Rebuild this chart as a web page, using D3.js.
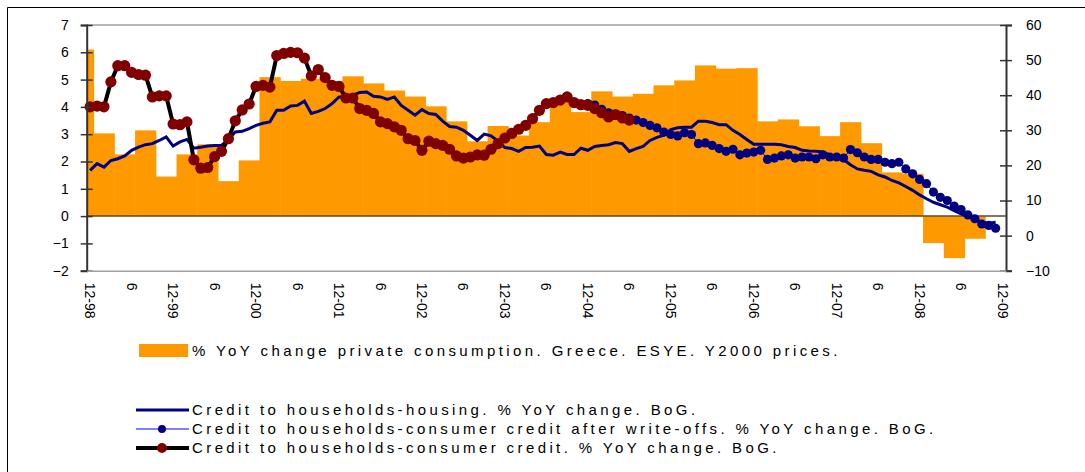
<!DOCTYPE html>
<html>
<head>
<meta charset="utf-8">
<script src="https://cdn.jsdelivr.net/npm/d3@7"></script>
<style>
  body { margin: 0; background: #fff; }
  svg text { font-family: "Liberation Sans", Arial, sans-serif; fill: #000; }
</style>
</head>
<body>
<div id="chart"></div>
<script>
// quarterly private consumption, % yoy (left axis), Q4-98 .. Q3-09
const consQuarters = ['Q4-98',
  'Q1-99','Q2-99','Q3-99','Q4-99','Q1-00','Q2-00','Q3-00','Q4-00',
  'Q1-01','Q2-01','Q3-01','Q4-01','Q1-02','Q2-02','Q3-02','Q4-02',
  'Q1-03','Q2-03','Q3-03','Q4-03','Q1-04','Q2-04','Q3-04','Q4-04',
  'Q1-05','Q2-05','Q3-05','Q4-05','Q1-06','Q2-06','Q3-06','Q4-06',
  'Q1-07','Q2-07','Q3-07','Q4-07','Q1-08','Q2-08','Q3-08','Q4-08',
  'Q1-09','Q2-09','Q3-09'];
const consValues = [6.1,
  3.03, 2.26, 3.14, 1.45, 2.26, 2.63, 1.28, 2.04,
  5.09, 4.95, 5.03, 4.95, 5.12, 4.86, 4.6, 4.38,
  4.02, 3.47, 2.74, 3.3, 2.95, 3.44, 4.2, 3.81,
  4.57, 4.38, 4.48, 4.79, 4.97, 5.52, 5.4, 5.42,
  3.47, 3.54, 3.29, 2.93, 3.44, 2.67, 1.6, 1.55,
  -0.99, -1.54, -0.83];

// monthly credit series (right axis), first value = Dec-98
const housing = [18.6, 20.5, 19.5, 21.4, 21.9, 22.7, 24.3, 25.2, 25.9, 26.2, 27.1, 28.1,
  25.5, 26.7, 27.4, 24.9, 25.2, 25.5, 25.7, 25.7, 27.4, 29.5, 29.7, 30.5,
  31.4, 32.0, 32.4, 35.7, 35.7, 36.9, 37.1, 38.3, 34.8, 35.4, 36.2, 37.6,
  39.5, 39.5, 40.0, 40.8, 40.9, 39.7, 39.5, 38.8, 39.5, 37.1, 35.7, 34.3,
  35.9, 34.8, 34.5, 32.6, 31.1, 30.9, 30.0, 28.6, 27.1, 28.9, 28.4, 26.9,
  25.1, 24.8, 24.0, 25.1, 25.2, 25.5, 23.1, 22.9, 23.8, 23.1, 23.1, 24.9,
  24.3, 25.4, 25.7, 25.9, 26.5, 26.2, 24.0, 24.8, 25.4, 27.1, 28.0, 28.6,
  30.2, 30.7, 30.9, 30.9, 32.6, 32.6, 32.2, 31.6, 31.6, 30.0, 28.8, 27.4,
  26.0, 26.0, 26.0, 26.0, 25.9, 25.4, 25.1, 24.3, 24.1, 24.0, 23.8, 23.0,
  22.7, 21.7, 20.2, 19.0, 18.6, 18.3, 17.3, 16.7, 15.7, 15.0, 14.0, 12.9,
  11.6, 10.5, 9.5, 8.8, 8.1, 7.1, 6.2, 5.4, 4.6, 3.8, 3.5, 3.8];

// consumer credit after write-offs, first value = Dec-04
const writeOffStart = 72;
const consumerAfterWO = [37.6, 37.2, 36.0, 35.0, 34.3, 34.2, 33.5,
  32.9, 32.2, 31.4, 30.7, 29.5, 28.8, 28.4, 29.3, 28.8, 26.2, 26.4, 25.7,
  24.8, 24.0, 24.6, 23.0, 23.5, 23.8, 24.3, 21.7, 22.1, 22.7, 23.0, 22.1,
  22.4, 22.4, 21.9, 23.0, 22.4, 22.4, 22.1, 24.5, 23.6, 22.4, 21.7, 21.7,
  20.9, 20.5, 20.9, 19.0, 17.6, 16.0, 14.8, 12.4, 10.9, 10.0, 8.4, 7.4,
  5.9, 4.8, 3.3, 2.9, 2.1];

// consumer credit, first value = Dec-98
const consumer = [36.7, 36.9, 36.7, 43.8, 48.4, 48.4, 46.5, 45.9, 45.7, 39.5, 39.8, 39.8,
  31.8, 31.6, 32.4, 21.6, 19.2, 19.4, 22.5, 24.0, 27.6, 32.7, 35.8, 37.5,
  42.5, 42.8, 42.3, 51.3, 51.9, 52.2, 52.1, 50.6, 45.5, 47.3, 45.0, 42.8,
  42.5, 39.2, 39.2, 36.2, 35.7, 34.8, 32.4, 31.9, 31.0, 30.0, 27.6, 27.1,
  24.3, 26.9, 26.2, 25.7, 24.6, 22.7, 22.1, 22.4, 23.0, 22.9, 24.6, 26.2,
  27.8, 29.1, 30.3, 31.4, 33.3, 35.7, 37.6, 37.9, 38.6, 39.5, 37.9, 37.3,
  37.1, 36.2, 35.0, 33.8, 34.5, 33.5, 32.9];

const leftTicks = [-2, -1, 0, 1, 2, 3, 4, 5, 6, 7];
const rightTicks = [-10, 0, 10, 20, 30, 40, 50, 60];

const legendItems = [
  '% YoY change private consumption. Greece. ESYE. Y2000 prices.',
  'Credit to households-housing. % YoY change. BoG.',
  'Credit to households-consumer credit after write-offs. % YoY change. BoG.',
  'Credit to households-consumer credit. % YoY change. BoG.'
];

const W = 1085, H = 472;
const plot = { left: 86.7, right: 1006, top: 25, bottom: 270.7 };

const months = d3.timeMonth.range(new Date(1998, 11, 1), new Date(2010, 0, 1));
const monthLabel = d => d.getMonth() === 11 ? '12-' + String(d.getFullYear() % 100).padStart(2, '0')
                      : d.getMonth() === 5 ? '6' : null;

const svg = d3.select('#chart').append('svg')
  .attr('width', W).attr('height', H);

// outer frame
svg.append('path')
  .attr('d', `M7.5,${H} V7.5 H${W}`)
  .attr('fill', 'none').attr('stroke', '#000').attr('stroke-width', 1);

const x = d3.scaleBand().domain(d3.range(months.length))
  .range([plot.left, plot.right]).paddingInner(0).paddingOuter(0);
const yL = d3.scaleLinear().domain([-2, 7]).range([plot.bottom, plot.top]);
const yR = d3.scaleLinear().domain([-10, 60]).range([plot.bottom, plot.top]);

// plot frame (top grey)
svg.append('line').attr('x1', plot.left).attr('x2', plot.right)
  .attr('y1', plot.top).attr('y2', plot.top).attr('stroke', '#a0a0a0').attr('stroke-width', 1.5);

// bars: each quarter spread over its months
const quarterStart = q => {
  const qn = +q[1], yy = +q.slice(3);
  const year = yy > 50 ? 1900 + yy : 2000 + yy;
  const m = new Date(year, (qn - 1) * 3, 1);
  return Math.max(0, d3.timeMonth.count(months[0], m));
};
const bars = consQuarters.map((q, i) => {
  const s = quarterStart(q);
  const e = i === 0 ? 1 : s + 3;
  return { s, e, v: consValues[i] };
});
svg.append('g').selectAll('rect').data(bars).enter().append('rect')
  .attr('x', d => x(d.s))
  .attr('width', d => (d.e - d.s) * x.bandwidth() + 0.5)
  .attr('y', d => yL(Math.max(0, d.v)))
  .attr('height', d => Math.abs(yL(d.v) - yL(0)))
  .attr('fill', '#ff9900');

// zero line
svg.append('line').attr('x1', plot.left).attr('x2', plot.right)
  .attr('y1', yL(0)).attr('y2', yL(0)).attr('stroke', '#5a4a2a').attr('stroke-width', 1.5);

const cx = i => x(i) + x.bandwidth() / 2;

// housing
svg.append('path').datum(housing)
  .attr('d', d3.line().x((d, i) => cx(i)).y(d => yR(d)))
  .attr('fill', 'none').attr('stroke', '#000080').attr('stroke-width', 3);

// consumer after write-offs
const gWO = svg.append('g');
gWO.append('path').datum(consumerAfterWO)
  .attr('d', d3.line().x((d, i) => cx(i + writeOffStart)).y(d => yR(d)))
  .attr('fill', 'none').attr('stroke', '#0000ff').attr('stroke-width', 1);
gWO.selectAll('circle').data(consumerAfterWO).enter().append('circle')
  .attr('cx', (d, i) => cx(i + writeOffStart)).attr('cy', d => yR(d))
  .attr('r', 4.6).attr('fill', '#000080');

// consumer credit
const gC = svg.append('g');
gC.append('path').datum(consumer)
  .attr('d', d3.line().x((d, i) => cx(i)).y(d => yR(d)))
  .attr('fill', 'none').attr('stroke', '#000').attr('stroke-width', 4);
gC.selectAll('circle').data(consumer).enter().append('circle')
  .attr('cx', (d, i) => cx(i)).attr('cy', d => yR(d))
  .attr('r', 5.6).attr('fill', '#800000');

// axes
const crossTicks = g => g.selectAll('.tick line').attr('x1', -6).attr('x2', 6);
const gL = svg.append('g').attr('transform', `translate(${plot.left},0)`)
  .call(d3.axisLeft(yL).tickValues(leftTicks).tickSize(6).tickPadding(12).tickFormat(d3.format('d')));
const gR = svg.append('g').attr('transform', `translate(${plot.right},0)`)
  .call(d3.axisRight(yR).tickValues(rightTicks).tickSize(6).tickPadding(14).tickFormat(d3.format('d')));
[gL, gR].forEach(g => {
  g.select('.domain').attr('stroke', '#333').attr('stroke-width', 2);
  g.call(crossTicks);
  g.selectAll('.tick line').attr('stroke', '#333').attr('stroke-width', 1.5);
  g.selectAll('.tick text').style('font-size', '14px').attr('fill', '#000');
});

const labelIdx = d3.range(months.length).filter(i => monthLabel(months[i]));
const gX = svg.append('g').attr('transform', `translate(0,${plot.bottom})`)
  .call(d3.axisBottom(x).tickValues(labelIdx).tickSize(0).tickFormat(i => monthLabel(months[i])));
gX.select('.domain').attr('stroke', '#a0a0a0').attr('stroke-width', 1.5);
gX.selectAll('.tick text')
  .style('font-size', '14px')
  .attr('text-anchor', 'start')
  .attr('transform', 'rotate(90)')
  .attr('x', 12).attr('y', 0).attr('dy', '0.35em');

// legend
const legend = svg.append('g');
legend.append('rect').attr('x', 139).attr('y', 344).attr('width', 49).attr('height', 13).attr('fill', '#ff9900');
const textX = 192, rows = [356, 415, 434, 453];
legendItems.forEach((t, i) => {
  legend.append('text').attr('x', textX).attr('y', rows[i])
    .style('font-size', '15px').style('letter-spacing', '3.4px').text(t);
});
const sym = [
  { y: rows[1] - 5, stroke: '#000080', w: 3, dot: null },
  { y: rows[2] - 5, stroke: '#0000ff', w: 1, dot: { r: 4, fill: '#000080' } },
  { y: rows[3] - 5, stroke: '#000', w: 4, dot: { r: 5, fill: '#800000' } }
];
sym.forEach(s => {
  legend.append('line').attr('x1', 136).attr('x2', 189).attr('y1', s.y).attr('y2', s.y)
    .attr('stroke', s.stroke).attr('stroke-width', s.w);
  if (s.dot) legend.append('circle').attr('cx', 162).attr('cy', s.y).attr('r', s.dot.r).attr('fill', s.dot.fill);
});
</script>
</body>
</html>
